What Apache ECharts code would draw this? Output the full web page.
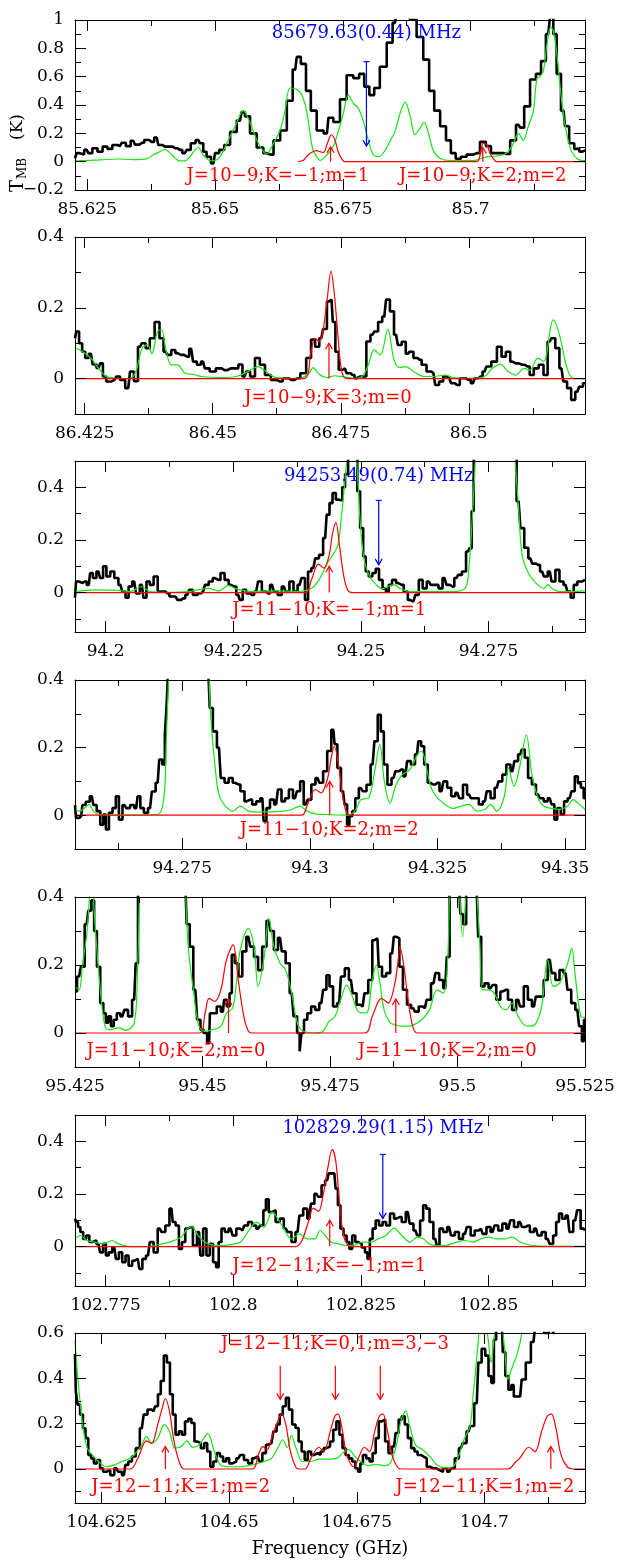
<!DOCTYPE html>
<html>
<head>
<meta charset="utf-8">
<script src="https://cdn.jsdelivr.net/npm/echarts@6/dist/echarts.min.js"></script>
<style>
html,body{margin:0;padding:0;background:#fff;}
#chart{width:618px;height:1562px;}
</style>
</head>
<body>
<div id="chart"></div>
<script>
// spectra: [frequency GHz, T_MB K]. obs = observed (black), model = full model (green), line = marked lines (red)
var p1Obs = [[85.6226,0.024],[85.6232,0.06],[85.6239,0.05],[85.6249,0.083],[85.6255,0.06],[85.6265,0.095],[85.6275,0.07],[85.6285,0.106],[85.6294,0.09],[85.6304,0.118],[85.6314,0.11],[85.6321,0.134],[85.6330,0.11],[85.6340,0.148],[85.6347,0.12],[85.6357,0.134],[85.6366,0.153],[85.6376,0.14],[85.6386,0.17],[85.6392,0.118],[85.6402,0.106],[85.6412,0.106],[85.6422,0.095],[85.6431,0.083],[85.6441,0.06],[85.6448,0.083],[85.6457,0.13],[85.6467,0.153],[85.6474,0.13],[85.6480,0.07],[85.6487,0.035],[85.6497,-0.012],[85.6503,0.06],[85.6513,0.083],[85.6523,0.118],[85.6536,0.21],[85.6549,0.29],[85.6555,0.35],[85.6562,0.32],[85.6575,0.2],[85.6588,0.1],[85.6601,0.06],[85.6608,0.05],[85.6621,0.15],[85.6634,0.22],[85.6647,0.43],[85.6657,0.65],[85.6663,0.74],[85.6673,0.69],[85.6683,0.5],[85.6692,0.36],[85.6706,0.22],[85.6719,0.2],[85.6725,0.31],[85.6738,0.28],[85.6751,0.44],[85.6764,0.61],[85.6777,0.59],[85.6787,0.62],[85.6797,0.53],[85.6807,0.47],[85.6816,0.52],[85.6829,0.67],[85.6843,0.84],[85.6852,0.98],[85.6858,1.04],[85.6872,1.06],[85.6888,1.01],[85.6901,0.88],[85.6914,0.72],[85.6924,0.5],[85.6934,0.36],[85.6947,0.25],[85.6957,0.15],[85.6966,0.06],[85.6976,0.02],[85.6986,0.035],[85.6999,0.05],[85.7012,0.06],[85.7025,0.14],[85.7035,0.11],[85.7045,0.06],[85.7058,0.06],[85.7071,0.055],[85.7084,0.15],[85.7094,0.26],[85.7100,0.24],[85.7110,0.39],[85.7123,0.58],[85.7133,0.62],[85.7143,0.71],[85.7152,0.9],[85.7159,1.02],[85.7165,0.9],[85.7172,0.62],[85.7182,0.36],[85.7188,0.25],[85.7198,0.13],[85.7208,0.09],[85.7218,0.07],[85.7224,0.08]];
var p1Model = [[85.6226,0.005],[85.6275,0.012],[85.6308,0.019],[85.6340,0.015],[85.6366,0.02],[85.6379,0.047],[85.6392,0.07],[85.6402,0.087],[85.6412,0.06],[85.6422,0.025],[85.6431,0.005],[85.6441,0.005],[85.6451,0.035],[85.6461,0.083],[85.6467,0.1],[85.6477,0.047],[85.6487,0.012],[85.6497,0.005],[85.6510,0.035],[85.6523,0.13],[85.6542,0.27],[85.6555,0.36],[85.6568,0.28],[85.6582,0.15],[85.6595,0.07],[85.6601,0.054],[85.6611,0.106],[85.6627,0.22],[85.6637,0.36],[85.6647,0.52],[85.6660,0.51],[85.6670,0.47],[85.6679,0.36],[85.6686,0.2],[85.6692,0.08],[85.6702,0.02],[85.6706,0.01],[85.6719,0.047],[85.6731,0.106],[85.6741,0.21],[85.6751,0.34],[85.6761,0.47],[85.6771,0.41],[85.6780,0.38],[85.6790,0.29],[85.6800,0.15],[85.6810,0.047],[85.6820,0.035],[85.6833,0.08],[85.6843,0.15],[85.6852,0.21],[85.6862,0.34],[85.6872,0.42],[85.6882,0.32],[85.6891,0.19],[85.6901,0.235],[85.6909,0.28],[85.6917,0.21],[85.6927,0.08],[85.6940,0.024],[85.6960,0.007],[85.7005,0.007],[85.7022,0.024],[85.7035,0.035],[85.7051,0.04],[85.7068,0.054],[85.7081,0.106],[85.7094,0.2],[85.7103,0.15],[85.7113,0.25],[85.7123,0.36],[85.7130,0.59],[85.7136,0.6],[85.7143,0.65],[85.7150,0.84],[85.7157,0.95],[85.7162,0.92],[85.7169,0.76],[85.7178,0.44],[85.7188,0.2],[85.7198,0.07],[85.7211,0.016],[85.7224,0.007]];
var p1Line = [[85.6663,0],[85.6673,0.01],[85.6679,0.035],[85.6686,0.06],[85.6699,0.078],[85.6706,0.07],[85.6712,0.065],[85.6719,0.12],[85.6725,0.18],[85.6728,0.19],[85.6735,0.15],[85.6741,0.07],[85.6748,0.02],[85.6754,0],[85.7012,0],[85.7019,0.05],[85.7025,0.13],[85.7032,0.12],[85.7038,0.06],[85.7045,0.02],[85.7051,0],[85.7224,0]];

var p2Obs = [[86.4231,0.114],[86.4236,0.133],[86.4242,0.1],[86.4248,0.076],[86.4254,0.058],[86.4262,0.07],[86.4269,0.04],[86.4277,0.03],[86.4283,0.043],[86.4288,0.006],[86.4296,-0.008],[86.4308,-0.004],[86.4315,0.006],[86.4323,-0.004],[86.4335,-0.027],[86.4342,0.02],[86.4350,-0.007],[86.4358,0.09],[86.4365,0.1],[86.4373,0.086],[86.4381,0.114],[86.4392,0.16],[86.4400,0.114],[86.4408,0.076],[86.4415,0.067],[86.4423,0.081],[86.4431,0.072],[86.4438,0.067],[86.4450,0.062],[86.4458,0.084],[86.4465,0.048],[86.4473,0.039],[86.4481,0.048],[86.4488,0.029],[86.4500,0.02],[86.4512,0.029],[86.4523,0.024],[86.4535,0.029],[86.4546,0.029],[86.4554,0.04],[86.4562,0.006],[86.4569,0.02],[86.4577,0.006],[86.4588,0.058],[86.4596,0.039],[86.4608,0.01],[86.4619,-0.004],[86.4631,-0.008],[86.4642,0.001],[86.4654,-0.004],[86.4665,0.001],[86.4677,0.015],[86.4688,0.058],[86.4696,0.11],[86.4704,0.09],[86.4712,0.114],[86.4719,0.14],[86.4727,0.218],[86.4732,0.223],[86.4737,0.16],[86.4742,0.076],[86.4750,0.025],[86.4758,0.029],[86.4765,0.015],[86.4773,0.01],[86.4781,0.001],[86.4788,0.006],[86.4796,0.006],[86.4804,0.105],[86.4812,0.124],[86.4819,0.133],[86.4827,0.16],[86.4835,0.175],[86.4842,0.223],[86.4850,0.19],[86.4858,0.124],[86.4865,0.095],[86.4873,0.104],[86.4881,0.07],[86.4888,0.076],[86.4896,0.058],[86.4904,0.053],[86.4912,0.039],[86.4923,0.02],[86.4931,0.015],[86.4938,-0.018],[86.4946,-0.008],[86.4954,0.006],[86.4962,0.001],[86.4969,-0.013],[86.4977,-0.018],[86.4988,0.001],[86.5000,-0.004],[86.5008,-0.013],[86.5015,0.001],[86.5023,0.006],[86.5031,0.02],[86.5038,0.034],[86.5050,0.048],[86.5060,0.09],[86.5068,0.062],[86.5077,0.076],[86.5085,0.048],[86.5092,0.043],[86.5104,0.039],[86.5115,0.034],[86.5123,0.01],[86.5131,0.029],[86.5142,0.039],[86.5150,0.01],[86.5158,0.105],[86.5165,0.114],[86.5173,0.086],[86.5181,0.029],[86.5188,-0.008],[86.5196,-0.027],[86.5204,-0.06],[86.5212,-0.037],[86.5219,-0.023],[86.5227,-0.013]];
var p2Model = [[86.4231,0.088],[86.4246,0.076],[86.4262,0.058],[86.4277,0.029],[86.4292,0.006],[86.4308,0.001],[86.4338,0],[86.4350,0.02],[86.4362,0.086],[86.4373,0.095],[86.4381,0.07],[86.4392,0.133],[86.4400,0.138],[86.4408,0.086],[86.4419,0.039],[86.4431,0.039],[86.4446,0.015],[86.4462,0.012],[86.4477,0.006],[86.4515,0.003],[86.4546,0.006],[86.4569,0.02],[86.4588,0.034],[86.4608,0.015],[86.4623,0.003],[86.4669,0.001],[86.4688,0.015],[86.4696,0.031],[86.4708,0.012],[86.4723,0.003],[86.4738,0.008],[86.4754,0.005],[86.4777,0.001],[86.4792,0.006],[86.4804,0.039],[86.4815,0.081],[86.4827,0.067],[86.4842,0.14],[86.4854,0.053],[86.4865,0.031],[86.4877,0.034],[86.4892,0.02],[86.4912,0.006],[86.4931,0.006],[86.4954,0.01],[86.4969,0.003],[86.5008,0.001],[86.5031,0.006],[86.5046,0.029],[86.5062,0.04],[86.5077,0.02],[86.5092,0.01],[86.5108,0.029],[86.5119,0.024],[86.5135,0.058],[86.5146,0.048],[86.5165,0.166],[86.5177,0.124],[86.5192,0.029],[86.5204,0.001],[86.5227,0]];
var p2Line = [[86.4231,0],[86.4677,0],[86.4692,0.076],[86.4700,0.114],[86.4708,0.105],[86.4715,0.133],[86.4723,0.218],[86.4731,0.303],[86.4737,0.246],[86.4745,0.114],[86.4752,0.02],[86.4762,0],[86.5227,0]];

var p3Obs = [[94.1940,-0.02],[94.1944,0.042],[94.1951,0.036],[94.1959,0.042],[94.1967,0.029],[94.1972,0.074],[94.1978,0.055],[94.1986,0.08],[94.1992,0.055],[94.1998,0.1],[94.2005,0.061],[94.2013,0.08],[94.2021,0.055],[94.2029,0.029],[94.2036,0.004],[94.2042,-0.02],[94.2048,0.023],[94.2056,0.042],[94.2063,-0.003],[94.2071,0.029],[94.2077,-0.02],[94.2083,0.042],[94.2090,0.029],[94.2098,0.061],[94.2106,0.004],[94.2113,0.004],[94.2121,-0.003],[94.2129,-0.015],[94.2137,-0.015],[94.2144,-0.028],[94.2152,-0.022],[94.2160,-0.009],[94.2167,0.01],[94.2175,-0.009],[94.2183,-0.003],[94.2191,0.004],[94.2198,0.029],[94.2206,0.042],[94.2214,0.055],[94.2221,0.048],[94.2229,0.074],[94.2237,0.048],[94.2245,0.029],[94.2252,0.023],[94.2260,-0.009],[94.2265,-0.028],[94.2272,0.01],[94.2279,-0.003],[94.2287,-0.009],[94.2295,0.004],[94.2302,0.042],[94.2310,0.004],[94.2318,-0.003],[94.2326,0.029],[94.2333,0.004],[94.2341,-0.009],[94.2349,0.023],[94.2356,0.004],[94.2364,0.042],[94.2372,0.004],[94.2380,0.029],[94.2387,0.055],[94.2394,-0.028],[94.2399,0.08],[94.2407,0.093],[94.2414,0.13],[94.2422,0.143],[94.2430,0.207],[94.2436,0.296],[94.2441,0.34],[94.2448,0.378],[94.2454,0.353],[94.2461,0.35],[94.2466,0.4],[94.2472,0.45],[94.2478,0.52],[94.2485,0.6],[94.2491,0.52],[94.2495,0.385],[94.2502,0.245],[94.2507,0.137],[94.2512,0.08],[94.2519,0.061],[94.2526,0.074],[94.2532,0.09],[94.2539,0.048],[94.2546,0.016],[94.2552,0.004],[94.2557,0.029],[94.2565,0.048],[94.2573,0.036],[94.2580,0.029],[94.2588,0.004],[94.2596,-0.028],[94.2603,-0.034],[94.2610,-0.009],[94.2617,0.048],[94.2625,0.016],[94.2633,0.042],[94.2640,0.029],[94.2648,0.029],[94.2656,0.016],[94.2664,0.055],[94.2671,0.029],[94.2679,0.023],[94.2687,0.055],[94.2694,0.067],[94.2702,0.08],[94.2710,0.156],[94.2715,0.168],[94.2719,0.31],[94.2723,0.55],[94.2731,0.9],[94.2762,1.0],[94.2793,0.9],[94.2801,0.55],[94.2809,0.347],[94.2816,0.245],[94.2824,0.17],[94.2832,0.13],[94.2839,0.11],[94.2847,0.105],[94.2855,0.08],[94.2862,0.061],[94.2870,0.08],[94.2877,0.042],[94.2885,0.086],[94.2893,0.042],[94.2901,0.029],[94.2908,0.004],[94.2914,-0.02],[94.2920,0.029],[94.2928,0.042],[94.2939,0.048]];
var p3Model = [[94.1940,0.004],[94.1978,0.01],[94.2025,0.008],[94.2048,0.004],[94.2071,0.023],[94.2086,0.004],[94.2117,0.001],[94.2164,0.004],[94.2202,0.016],[94.2221,0.006],[94.2241,0.027],[94.2256,0.014],[94.2287,0.004],[94.2333,0.006],[94.2380,0.004],[94.2403,0.016],[94.2418,0.048],[94.2434,0.11],[94.2445,0.143],[94.2455,0.18],[94.2463,0.31],[94.2468,0.41],[94.2474,0.55],[94.2481,0.9],[94.2490,0.55],[94.2495,0.4],[94.2499,0.258],[94.2507,0.118],[94.2519,0.055],[94.2530,0.03],[94.2542,0.014],[94.2553,0.023],[94.2565,0.03],[94.2576,0.016],[94.2596,0.004],[94.2642,0.004],[94.2681,0.004],[94.2704,0.016],[94.2711,0.08],[94.2719,0.31],[94.2725,0.55],[94.2735,1.2],[94.2762,1.4],[94.2789,1.2],[94.2801,0.55],[94.2809,0.32],[94.2816,0.14],[94.2828,0.074],[94.2843,0.036],[94.2859,0.016],[94.2866,0.03],[94.2874,0.016],[94.2889,0.004],[94.2912,0.004],[94.2939,0.006]];
var p3Line = [[94.1940,0],[94.2391,0],[94.2403,0.048],[94.2417,0.108],[94.2427,0.093],[94.2438,0.143],[94.2444,0.22],[94.2451,0.267],[94.2458,0.18],[94.2466,0.067],[94.2474,0.01],[94.2484,0],[94.2939,0]];

var p4Obs = [[94.2540,0.03],[94.2544,-0.008],[94.2552,-0.003],[94.2557,0.03],[94.2565,0.04],[94.2573,0.056],[94.2579,0.03],[94.2586,0.012],[94.2593,-0.028],[94.2598,0.002],[94.2603,-0.042],[94.2610,0.007],[94.2617,0.021],[94.2623,0.056],[94.2629,-0.013],[94.2637,0.03],[94.2644,0.021],[94.2652,0.03],[94.2660,0.021],[94.2665,0.056],[94.2671,0.021],[94.2679,0.007],[94.2687,0.021],[94.2694,0.07],[94.2702,0.096],[94.2708,0.165],[94.2714,0.15],[94.2718,0.238],[94.2721,0.327],[94.2725,0.45],[94.2733,0.8],[94.2764,0.9],[94.2799,0.7],[94.2802,0.45],[94.2806,0.317],[94.2814,0.248],[94.2822,0.2],[94.2829,0.11],[94.2837,0.096],[94.2845,0.11],[94.2853,0.096],[94.2860,0.091],[94.2868,0.071],[94.2876,0.041],[94.2883,0.046],[94.2891,0.032],[94.2899,0.041],[94.2907,0.05],[94.2912,-0.018],[94.2918,0.021],[94.2926,0.046],[94.2934,0.032],[94.2941,0.076],[94.2948,0.041],[94.2955,0.05],[94.2963,0.076],[94.2971,0.05],[94.2978,0.071],[94.2984,0.1],[94.2992,0.032],[94.2999,0.046],[94.3007,0.091],[94.3015,0.11],[94.3022,0.096],[94.3030,0.13],[94.3038,0.19],[94.3046,0.253],[94.3051,0.21],[94.3057,0.14],[94.3065,0.071],[94.3071,0.032],[94.3075,-0.028],[94.3080,-0.003],[94.3086,0.012],[94.3092,0.05],[94.3100,0.08],[94.3107,0.071],[94.3115,0.09],[94.3123,0.15],[94.3130,0.219],[94.3136,0.297],[94.3142,0.248],[94.3148,0.15],[94.3156,0.09],[94.3164,0.11],[94.3171,0.13],[94.3179,0.135],[94.3187,0.115],[94.3194,0.16],[94.3202,0.15],[94.3210,0.18],[94.3215,0.219],[94.3221,0.204],[94.3227,0.15],[94.3235,0.096],[94.3242,0.091],[94.3250,0.096],[94.3258,0.071],[94.3265,0.1],[94.3273,0.081],[94.3281,0.056],[94.3289,0.066],[94.3296,0.05],[94.3304,0.09],[94.3312,0.061],[94.3319,0.05],[94.3327,0.05],[94.3335,0.032],[94.3343,0.041],[94.3350,0.071],[94.3358,0.05],[94.3366,0.081],[94.3373,0.1],[94.3381,0.12],[94.3389,0.15],[94.3397,0.13],[94.3404,0.16],[94.3412,0.18],[94.3418,0.194],[94.3424,0.17],[94.3431,0.11],[94.3439,0.091],[94.3447,0.061],[94.3454,0.05],[94.3462,0.041],[94.3470,0.05],[94.3477,0.032],[94.3481,-0.013],[94.3488,0.021],[94.3495,0.002],[94.3501,0.041],[94.3509,0.05],[94.3516,0.071],[94.3522,0.115],[94.3528,0.095],[94.3534,0.081],[94.3539,0.05]];
var p4Model = [[94.2540,0.017],[94.2548,0.012],[94.2559,0.021],[94.2567,0.032],[94.2579,0.007],[94.2602,0],[94.2656,0],[94.2702,0.002],[94.2714,0.05],[94.2719,0.23],[94.2724,0.45],[94.2733,1.2],[94.2764,1.4],[94.2799,1.0],[94.2802,0.45],[94.2806,0.29],[94.2814,0.15],[94.2822,0.06],[94.2833,0.03],[94.2849,0.012],[94.2864,0.027],[94.2880,0.012],[94.2903,0.009],[94.2949,0.012],[94.2965,0.017],[94.2980,0.027],[94.2995,0.012],[94.3011,0.004],[94.3034,0.002],[94.3073,0],[94.3088,0.012],[94.3100,0.046],[94.3115,0.051],[94.3127,0.13],[94.3137,0.209],[94.3146,0.1],[94.3157,0.036],[94.3169,0.091],[94.3181,0.12],[94.3196,0.135],[94.3211,0.18],[94.3219,0.19],[94.3227,0.15],[94.3238,0.08],[94.3250,0.051],[94.3265,0.032],[94.3281,0.02],[94.3296,0.027],[94.3312,0.032],[94.3327,0.012],[94.3343,0.017],[94.3354,0.032],[94.3366,0.012],[94.3381,0.056],[94.3389,0.14],[94.3400,0.086],[94.3412,0.15],[94.3424,0.238],[94.3435,0.12],[94.3447,0.051],[94.3458,0.027],[94.3474,0.02],[94.3489,0.017],[94.3505,0.027],[94.3516,0.046],[94.3528,0.032],[94.3539,0.017]];
var p4Line = [[94.2540,0],[94.2984,0],[94.2995,0.03],[94.3011,0.076],[94.3022,0.066],[94.3034,0.105],[94.3042,0.17],[94.3048,0.204],[94.3056,0.15],[94.3065,0.05],[94.3073,0.004],[94.3080,0],[94.3539,0]];

var p5Obs = [[95.4250,0.122],[95.4258,0.166],[95.4265,0.195],[95.4273,0.32],[95.4279,0.36],[95.4285,0.39],[95.4290,0.3],[95.4296,0.195],[95.4303,0.088],[95.4308,0.058],[95.4313,0.03],[95.4318,0.049],[95.4323,0.02],[95.4329,0.039],[95.4335,0.058],[95.4343,0.049],[95.4350,0.068],[95.4358,0.049],[95.4366,0.098],[95.4372,0.205],[95.4375,0.45],[95.4381,0.8],[95.4458,0.8],[95.4466,0.45],[95.4472,0.32],[95.4478,0.254],[95.4486,0.127],[95.4493,0.039],[95.4499,0.01],[95.4505,0],[95.4513,-0.03],[95.4516,0.058],[95.4524,0.058],[95.4532,0.078],[95.4540,0.063],[95.4545,0.098],[95.4551,0.078],[95.4555,0.117],[95.4560,0.23],[95.4567,0.205],[95.4574,0.166],[95.4582,0.24],[95.4590,0.283],[95.4597,0.254],[95.4605,0.224],[95.4613,0.185],[95.4621,0.254],[95.4630,0.33],[95.4636,0.3],[95.4644,0.244],[95.4652,0.28],[95.4659,0.24],[95.4667,0.205],[95.4675,0.117],[95.4682,0.049],[95.4689,0],[95.4692,-0.054],[95.4696,0],[95.4702,0.039],[95.4709,0.058],[95.4717,0.078],[95.4725,0.068],[95.4733,0.088],[95.4740,0.127],[95.4746,0.17],[95.4752,0.137],[95.4760,0.078],[95.4768,0.088],[95.4775,0.166],[95.4783,0.19],[95.4791,0.156],[95.4798,0.117],[95.4806,0.083],[95.4814,0.078],[95.4821,0.117],[95.4829,0.156],[95.4837,0.273],[95.4843,0.278],[95.4848,0.195],[95.4856,0.166],[95.4864,0.176],[95.4872,0.234],[95.4878,0.283],[95.4883,0.278],[95.4889,0.195],[95.4897,0.127],[95.4905,0.083],[95.4913,0.073],[95.4920,0.063],[95.4928,0.078],[95.4936,0.073],[95.4943,0.098],[95.4953,0.146],[95.4960,0.176],[95.4968,0.156],[95.4976,0.132],[95.4982,0.224],[95.4987,0.45],[95.4995,0.7],[95.5003,0.45],[95.5008,0.35],[95.5014,0.32],[95.5020,0.45],[95.5028,0.7],[95.5037,0.45],[95.5044,0.283],[95.5049,0.137],[95.5057,0.146],[95.5065,0.132],[95.5072,0.141],[95.5080,0.098],[95.5088,0.122],[95.5095,0.127],[95.5103,0.098],[95.5111,0.068],[95.5119,0.098],[95.5126,0.078],[95.5134,0.137],[95.5142,0.098],[95.5150,0.078],[95.5157,0.107],[95.5165,0.107],[95.5173,0.156],[95.5181,0.215],[95.5188,0.176],[95.5196,0.156],[95.5204,0.185],[95.5212,0.176],[95.5219,0.127],[95.5227,0.088],[95.5235,0.068],[95.5242,0.02],[95.5246,-0.024],[95.5250,0.039]];
var p5Model = [[95.4250,0.137],[95.4258,0.127],[95.4265,0.205],[95.4273,0.29],[95.4281,0.45],[95.4284,0.47],[95.4287,0.37],[95.4295,0.205],[95.4303,0.078],[95.4310,0.015],[95.4319,0.01],[95.4335,0.015],[95.4350,0.008],[95.4366,0.029],[95.4372,0.156],[95.4377,0.45],[95.4385,1.0],[95.4458,1.0],[95.4466,0.45],[95.4472,0.254],[95.4482,0.127],[95.4493,0.02],[95.4505,0.005],[95.4520,0.01],[95.4536,0.02],[95.4547,0.058],[95.4559,0.073],[95.4567,0.156],[95.4574,0.244],[95.4590,0.307],[95.4601,0.254],[95.4609,0.137],[95.4621,0.224],[95.4630,0.337],[95.4640,0.254],[95.4652,0.205],[95.4663,0.185],[95.4675,0.117],[95.4686,0.029],[95.4698,0.005],[95.4721,0],[95.4736,0.005],[95.4748,0.034],[95.4760,0.049],[95.4771,0.098],[95.4783,0.141],[95.4794,0.107],[95.4806,0.063],[95.4821,0.059],[95.4833,0.156],[95.4841,0.2],[95.4848,0.146],[95.4856,0.068],[95.4868,0.03],[95.4879,0.024],[95.4891,0.02],[95.4903,0.02],[95.4914,0.024],[95.4930,0.039],[95.4945,0.068],[95.4960,0.127],[95.4972,0.117],[95.4980,0.195],[95.4985,0.45],[95.4993,0.8],[95.5003,0.45],[95.5010,0.283],[95.5018,0.45],[95.5027,0.8],[95.5037,0.45],[95.5044,0.254],[95.5049,0.127],[95.5061,0.127],[95.5072,0.117],[95.5084,0.078],[95.5095,0.068],[95.5107,0.088],[95.5119,0.049],[95.5131,0.024],[95.5142,0.02],[95.5154,0.029],[95.5165,0.078],[95.5177,0.215],[95.5188,0.137],[95.5200,0.146],[95.5216,0.205],[95.5224,0.249],[95.5231,0.166],[95.5242,0.049],[95.5250,0.046]];
var p5Line = [[95.4250,0],[95.4493,0],[95.4505,0.058],[95.4513,0.102],[95.4524,0.093],[95.4536,0.127],[95.4547,0.215],[95.4560,0.259],[95.4570,0.156],[95.4581,0.049],[95.4590,0.005],[95.4597,0],[95.4818,0],[95.4833,0.049],[95.4851,0.102],[95.4864,0.088],[95.4876,0.137],[95.4883,0.205],[95.4887,0.254],[95.4895,0.195],[95.4903,0.098],[95.4913,0.015],[95.4922,0],[95.5250,0]];

var p6Obs = [[102.7690,0.106],[102.7694,0.093],[102.7698,0.074],[102.7703,0.055],[102.7709,0.029],[102.7715,0.042],[102.7721,0.017],[102.7728,0.023],[102.7736,0.01],[102.7742,-0.022],[102.7748,0.01],[102.7753,-0.034],[102.7759,-0.022],[102.7767,-0.003],[102.7773,-0.047],[102.7779,-0.022],[102.7786,-0.06],[102.7792,-0.034],[102.7798,-0.073],[102.7806,-0.054],[102.7813,-0.047],[102.7819,-0.085],[102.7825,-0.047],[102.7833,-0.034],[102.7840,0.017],[102.7848,-0.022],[102.7856,0.068],[102.7863,0.055],[102.7871,0.08],[102.7879,0.144],[102.7884,0.093],[102.7890,0.08],[102.7897,-0.009],[102.7902,0.017],[102.7910,0.068],[102.7917,0.074],[102.7925,0.004],[102.7933,0.055],[102.7938,-0.034],[102.7944,0.068],[102.7951,-0.034],[102.7957,0.01],[102.7964,-0.06],[102.7969,-0.079],[102.7974,0.017],[102.7980,0.068],[102.7987,0.055],[102.7995,0.068],[102.8002,0.042],[102.8010,0.068],[102.8018,0.061],[102.8025,0.08],[102.8033,0.093],[102.8041,0.08],[102.8049,0.068],[102.8056,0.08],[102.8062,0.138],[102.8066,0.18],[102.8073,0.131],[102.8079,0.138],[102.8087,0.093],[102.8095,0.106],[102.8103,0.068],[102.8110,0.055],[102.8118,0.017],[102.8126,0.055],[102.8133,0.118],[102.8141,0.144],[102.8149,0.106],[102.8155,0.163],[102.8163,0.2],[102.8170,0.189],[102.8176,0.233],[102.8184,0.252],[102.8190,0.278],[102.8198,0.278],[102.8203,0.22],[102.8207,0.157],[102.8213,0.068],[102.8219,0.042],[102.8225,0.017],[102.8230,-0.009],[102.8236,0.042],[102.8242,0.017],[102.8248,0.01],[102.8255,-0.003],[102.8261,-0.022],[102.8265,-0.047],[102.8270,0.029],[102.8276,0.068],[102.8282,0.099],[102.8289,0.08],[102.8296,0.093],[102.8303,0.08],[102.8311,0.125],[102.8319,0.106],[102.8326,0.112],[102.8334,0.093],[102.8342,0.131],[102.8349,0.087],[102.8357,0.061],[102.8363,0.042],[102.8369,0.099],[102.8375,0.157],[102.8381,0.144],[102.8388,0.093],[102.8396,0.029],[102.8401,0.004],[102.8407,0.068],[102.8415,0.055],[102.8423,0.074],[102.8430,0.042],[102.8438,0.055],[102.8446,0.029],[102.8454,0.048],[102.8461,0.074],[102.8469,0.042],[102.8477,0.061],[102.8485,0.068],[102.8492,0.048],[102.8500,0.074],[102.8508,0.055],[102.8515,0.08],[102.8523,0.061],[102.8531,0.087],[102.8539,0.068],[102.8546,0.1],[102.8554,0.074],[102.8562,0.093],[102.8569,0.074],[102.8577,0.08],[102.8585,0.055],[102.8593,0.068],[102.8600,0.042],[102.8608,0.055],[102.8616,0.029],[102.8623,0.01],[102.8630,0.042],[102.8635,0.093],[102.8641,0.125],[102.8647,0.106],[102.8655,0.118],[102.8662,0.055],[102.8670,0.099],[102.8677,0.138],[102.8684,0.068],[102.8689,0.061]];
var p6Model = [[102.7690,0.03],[102.7701,0.042],[102.7713,0.023],[102.7728,0.017],[102.7744,0.01],[102.7763,0.023],[102.7775,0.01],[102.7798,0],[102.7829,0],[102.7852,0.006],[102.7875,0.017],[102.7898,0.036],[102.7910,0.068],[102.7919,0.076],[102.7929,0.048],[102.7944,0.017],[102.7968,0.004],[102.7991,0.006],[102.8014,0.017],[102.8033,0.068],[102.8046,0.093],[102.8060,0.074],[102.8076,0.131],[102.8083,0.118],[102.8099,0.068],[102.8114,0.029],[102.8130,0.048],[102.8145,0.029],[102.8160,0.029],[102.8170,0.061],[102.8180,0.042],[102.8191,0.017],[102.8207,0.01],[102.8222,0.004],[102.8238,0.006],[102.8253,0.017],[102.8269,0.017],[102.8284,0.029],[102.8299,0.042],[102.8315,0.07],[102.8330,0.042],[102.8346,0.017],[102.8361,0.036],[102.8373,0.029],[102.8384,0.01],[102.8400,0.004],[102.8415,0.004],[102.8438,0.017],[102.8454,0.023],[102.8469,0.017],[102.8485,0.029],[102.8500,0.036],[102.8515,0.029],[102.8531,0.029],[102.8546,0.036],[102.8562,0.017],[102.8585,0.004],[102.8623,0.001],[102.8689,0.001]];
var p6Line = [[102.7690,0],[102.8122,0],[102.8133,0.017],[102.8145,0.08],[102.8157,0.146],[102.8167,0.134],[102.8176,0.195],[102.8185,0.297],[102.8194,0.369],[102.8201,0.322],[102.8208,0.17],[102.8216,0.042],[102.8225,0.004],[102.8234,0],[102.8689,0]];

var p7Obs = [[104.6198,0.507],[104.6201,0.344],[104.6205,0.284],[104.6211,0.24],[104.6216,0.18],[104.6221,0.136],[104.6227,0.062],[104.6232,0.047],[104.6238,0.025],[104.6244,0.04],[104.6250,0.003],[104.6256,-0.012],[104.6263,-0.005],[104.6271,-0.027],[104.6279,0.003],[104.6286,-0.012],[104.6294,-0.027],[104.6299,0.018],[104.6306,0.033],[104.6313,0.055],[104.6321,0.092],[104.6329,0.18],[104.6336,0.24],[104.6344,0.262],[104.6352,0.255],[104.6358,0.277],[104.6363,0.33],[104.6369,0.388],[104.6375,0.5],[104.6381,0.47],[104.6387,0.33],[104.6392,0.24],[104.6398,0.151],[104.6405,0.166],[104.6410,0.151],[104.6417,0.21],[104.6423,0.222],[104.6429,0.203],[104.6435,0.121],[104.6441,0.114],[104.6448,0.092],[104.6454,0.114],[104.6460,0.077],[104.6466,0.01],[104.6472,0.033],[104.6479,0.07],[104.6485,0.055],[104.6491,0.033],[104.6497,0.047],[104.6503,0.025],[104.6510,0.033],[104.6518,0.047],[104.6525,0.062],[104.6533,0.04],[104.6541,0.025],[104.6549,0.047],[104.6556,0.055],[104.6562,0.033],[104.6568,0.07],[104.6576,0.107],[104.6583,0.114],[104.6590,0.166],[104.6596,0.196],[104.6602,0.24],[104.6608,0.277],[104.6614,0.314],[104.6620,0.262],[104.6627,0.196],[104.6633,0.181],[104.6639,0.121],[104.6645,0.077],[104.6651,0.04],[104.6657,0.077],[104.6664,0.062],[104.6670,0.07],[104.6676,0.062],[104.6682,0.077],[104.6688,0.092],[104.6694,0.099],[104.6701,0.121],[104.6707,0.173],[104.6713,0.21],[104.6719,0.151],[104.6725,0.092],[104.6731,0.062],[104.6738,0.047],[104.6744,0.033],[104.6750,0.003],[104.6755,-0.012],[104.6759,0.025],[104.6765,0.062],[104.6772,0.047],[104.6778,0.033],[104.6784,0.07],[104.6790,0.136],[104.6796,0.21],[104.6802,0.218],[104.6809,0.121],[104.6815,0.07],[104.6823,0.099],[104.6829,0.159],[104.6835,0.218],[104.6841,0.233],[104.6847,0.196],[104.6853,0.136],[104.6860,0.092],[104.6866,0.077],[104.6872,0.062],[104.6878,0.055],[104.6884,0.047],[104.6890,0.01],[104.6897,0.003],[104.6903,0.003],[104.6909,-0.005],[104.6915,-0.012],[104.6923,0.003],[104.6931,-0.012],[104.6938,0.003],[104.6946,0.047],[104.6954,0.092],[104.6961,0.114],[104.6969,0.166],[104.6975,0.19],[104.6985,0.29],[104.6991,0.47],[104.6998,0.53],[104.7005,0.5],[104.7011,0.41],[104.7016,0.38],[104.7021,0.57],[104.7025,0.65],[104.7034,0.65],[104.7038,0.515],[104.7044,0.41],[104.7050,0.35],[104.7055,0.37],[104.7060,0.32],[104.7070,0.32],[104.7076,0.395],[104.7086,0.47],[104.7096,0.56],[104.7102,0.62],[104.7112,0.65],[104.7122,0.6],[104.7130,0.63],[104.7138,0.6]];
var p7Model = [[104.6198,0.566],[104.6204,0.388],[104.6213,0.196],[104.6222,0.092],[104.6232,0.062],[104.6244,0.033],[104.6259,0.01],[104.6275,0.018],[104.6290,0.033],[104.6306,0.047],[104.6317,0.07],[104.6329,0.107],[104.6338,0.144],[104.6348,0.114],[104.6360,0.136],[104.6373,0.196],[104.6383,0.166],[104.6394,0.092],[104.6406,0.099],[104.6417,0.124],[104.6429,0.095],[104.6441,0.107],[104.6458,0.156],[104.6471,0.077],[104.6483,0.018],[104.6498,0.01],[104.6522,0.01],[104.6545,0.018],[104.6568,0.033],[104.6583,0.047],[104.6595,0.092],[104.6605,0.129],[104.6614,0.095],[104.6622,0.148],[104.6631,0.092],[104.6644,0.033],[104.6660,0.033],[104.6676,0.044],[104.6695,0.044],[104.6711,0.047],[104.6722,0.07],[104.6734,0.087],[104.6744,0.062],[104.6757,0.033],[104.6772,0.015],[104.6788,0.021],[104.6803,0.015],[104.6815,0.025],[104.6826,0.092],[104.6838,0.225],[104.6846,0.255],[104.6853,0.196],[104.6865,0.107],[104.6880,0.084],[104.6896,0.047],[104.6907,0.018],[104.6923,0.006],[104.6938,0.01],[104.6950,0.062],[104.6961,0.136],[104.6972,0.19],[104.6978,0.33],[104.6985,0.49],[104.6990,0.62],[104.6996,0.8],[104.7002,0.8],[104.7005,0.62],[104.7008,0.56],[104.7013,0.47],[104.7018,0.56],[104.7021,0.62],[104.7027,0.9],[104.7033,0.9],[104.7036,0.62],[104.7040,0.52],[104.7046,0.395],[104.7053,0.44],[104.7063,0.5],[104.7070,0.56],[104.7074,0.62],[104.7082,0.9]];
var p7Line = [[104.6198,0],[104.6306,0],[104.6321,0.047],[104.6338,0.124],[104.6348,0.114],[104.6360,0.196],[104.6369,0.27],[104.6375,0.311],[104.6383,0.255],[104.6392,0.121],[104.6402,0.033],[104.6412,0],[104.6545,0],[104.6557,0.062],[104.6566,0.099],[104.6574,0.084],[104.6585,0.151],[104.6595,0.21],[104.6603,0.243],[104.6611,0.196],[104.6620,0.077],[104.6630,0.01],[104.6637,0],[104.6649,0],[104.6660,0.047],[104.6676,0.096],[104.6685,0.077],[104.6698,0.166],[104.6707,0.233],[104.6713,0.243],[104.6721,0.18],[104.6730,0.062],[104.6740,0.015],[104.6745,0.01],[104.6753,0.047],[104.6765,0.096],[104.6775,0.077],[104.6785,0.166],[104.6794,0.233],[104.6801,0.243],[104.6809,0.18],[104.6819,0.062],[104.6829,0.01],[104.6838,0],[104.7046,0],[104.7062,0.033],[104.7069,0.047],[104.7087,0.096],[104.7099,0.077],[104.7112,0.166],[104.7123,0.233],[104.7131,0.243],[104.7140,0.18],[104.7150,0.062],[104.7162,0.01],[104.7174,0],[104.7197,0]];

// tick labels
var p1XTicks = [85.625, 85.65, 85.675, 85.7], p1YTicks = [-0.2, 0, 0.2, 0.4, 0.6, 0.8, 1];
var p2XTicks = [86.425, 86.45, 86.475, 86.5], p2YTicks = [0, 0.2, 0.4];
var p3XTicks = [94.2, 94.225, 94.25, 94.275], p3YTicks = [0, 0.2, 0.4];
var p4XTicks = [94.275, 94.3, 94.325, 94.35], p4YTicks = [0, 0.2, 0.4];
var p5XTicks = [95.425, 95.45, 95.475, 95.5, 95.525], p5YTicks = [0, 0.2, 0.4];
var p6XTicks = [102.775, 102.8, 102.825, 102.85], p6YTicks = [0, 0.2, 0.4];
var p7XTicks = [104.625, 104.65, 104.675, 104.7], p7YTicks = [0, 0.2, 0.4, 0.6];

// line markers: [GHz, from K, to K]
var p1Arrows = [[85.6726, 0, 0.105], [85.7024, 0, 0.1]];
var p2Arrows = [[86.4727, 0, 0.1]];
var p3Arrows = [[94.2438, 0, 0.1]];
var p4Arrows = [[94.3039, 0, 0.1]];
var p5Arrows = [[95.4551, 0, 0.1], [95.4879, 0, 0.1]];
var p6Arrows = [[102.8189, 0, 0.1]];
var p7Arrows = [[104.6375, 0, 0.1], [104.7130, 0, 0.1], [104.6600, 0.455, 0.307], [104.6708, 0.455, 0.307], [104.6796, 0.455, 0.307]];
// predicted frequencies (blue): [GHz, top K, tip K]
var p1Pred = [[85.67963, 0.706, 0.11]];
var p3Pred = [[94.25349, 0.35, 0.105]];
var p6Pred = [[102.82929, 0.35, 0.106]];
// texts: [text, GHz, K]
var p1Names = [['J=10\u22129;K=\u22121;m=1', 85.6623, -0.1], ['J=10\u22129;K=2;m=2', 85.7024, -0.1]];
var p2Names = [['J=10\u22129;K=3;m=0', 86.4725, -0.056]];
var p3Names = [['J=11\u221210;K=\u22121;m=1', 94.2438, -0.069]];
var p4Names = [['J=11\u221210;K=2;m=2', 94.3038, -0.044]];
var p5Names = [['J=11\u221210;K=2;m=0', 95.4448, -0.054], ['J=11\u221210;K=2;m=0', 95.4980, -0.054]];
var p6Names = [['J=12\u221211;K=\u22121;m=1', 102.8188, -0.075]];
var p7Names = [['J=12\u221211;K=0,1;m=3,\u22123', 104.6707, 0.551], ['J=12\u221211;K=1;m=2', 104.6405, -0.079], ['J=12\u221211;K=1;m=2', 104.7001, -0.079]];
var p1PredText = [['85679.63(0.44) MHz', 85.67963, 0.908]];
var p3PredText = [['94253.49(0.74) MHz', 94.25349, 0.442]];
var p6PredText = [['102829.29(1.15) MHz', 102.82929, 0.45]];

var panels = [
  {obs:p1Obs, model:p1Model, line:p1Line, xt:p1XTicks, yt:p1YTicks, x:[85.6226,85.7224], y:[-0.2,1], top:20, h:170, arrows:p1Arrows, pred:p1Pred, names:p1Names, predText:p1PredText},
  {obs:p2Obs, model:p2Model, line:p2Line, xt:p2XTicks, yt:p2YTicks, x:[86.4231,86.5227], y:[-0.1,0.4], top:237, h:177, arrows:p2Arrows, pred:[], names:p2Names, predText:[]},
  {obs:p3Obs, model:p3Model, line:p3Line, xt:p3XTicks, yt:p3YTicks, x:[94.1940,94.2939], y:[-0.15,0.5], top:461, h:171, arrows:p3Arrows, pred:p3Pred, names:p3Names, predText:p3PredText},
  {obs:p4Obs, model:p4Model, line:p4Line, xt:p4XTicks, yt:p4YTicks, x:[94.2540,94.3539], y:[-0.1,0.4], top:680, h:169, arrows:p4Arrows, pred:[], names:p4Names, predText:[]},
  {obs:p5Obs, model:p5Model, line:p5Line, xt:p5XTicks, yt:p5YTicks, x:[95.425,95.525], y:[-0.1,0.4], top:897, h:170, arrows:p5Arrows, pred:[], names:p5Names, predText:[]},
  {obs:p6Obs, model:p6Model, line:p6Line, xt:p6XTicks, yt:p6YTicks, x:[102.7690,102.8689], y:[-0.15,0.5], top:1115, h:171, arrows:p6Arrows, pred:p6Pred, names:p6Names, predText:p6PredText},
  {obs:p7Obs, model:p7Model, line:p7Line, xt:p7XTicks, yt:p7YTicks, x:[104.6198,104.7197], y:[-0.15,0.6], top:1333, h:170, arrows:p7Arrows, pred:[], names:p7Names, predText:[]}
];

var FONT = '"DejaVu Serif", serif';
var RED = '#ff0000', GREEN = '#14e614', BLUE = '#0000ff';

function fmtX(v) { return String(+v.toFixed(4)); }
function fmtY(v) { v = +v.toFixed(2); return v < 0 ? '\u2212' + (-v) : String(v); }
function minorTicks(major, step, lo, hi) {
  var out = major.map(function (v) { return v + step; });
  out.push(major[0] - step);
  return out.filter(function (v) { return v > lo + 1e-9 && v < hi - 1e-9; });
}

var grids = [], xAxes = [], yAxes = [], series = [];

panels.forEach(function (p, i) {
  grids.push({left:75, width:510, top:p.top, height:p.h, outerBoundsMode:'none'});
  var xm = minorTicks(p.xt, 0.0125, p.x[0], p.x[1]);
  var ym = minorTicks(p.yt, 0.1, p.y[0], p.y[1]);
  var xb = {type:'value', gridIndex:i, min:p.x[0], max:p.x[1], splitLine:{show:false}, z:5};
  var yb = {type:'value', gridIndex:i, min:p.y[0], max:p.y[1], splitLine:{show:false}, z:5};
  var line = {show:true, onZero:false, lineStyle:{color:'#000', width:1}};
  var noLine = {show:false, onZero:false};
  ['bottom', 'top'].forEach(function (pos) {
    var main = Object.assign({}, xb, {position:pos, offset:0, axisLine:line,
      axisTick:{show:true, inside:true, length:11, customValues:p.xt, lineStyle:{color:'#000', width:1}},
      axisLabel:{show:pos === 'bottom', customValues:p.xt, formatter:fmtX, margin:11, color:'#000', fontFamily:FONT, fontSize:17}});
    if (pos === 'bottom' && i === panels.length - 1) {
      main.name = 'Frequency (GHz)';
      main.nameLocation = 'middle';
      main.nameGap = 37;
      main.nameTextStyle = {color:'#000', fontFamily:FONT, fontSize:18};
    }
    xAxes.push(main);
    xAxes.push(Object.assign({}, xb, {position:pos, offset:0, axisLine:noLine,
      axisTick:{show:true, inside:true, length:6, customValues:xm, lineStyle:{color:'#000', width:1}},
      axisLabel:{show:false}}));
  });
  ['left', 'right'].forEach(function (pos) {
    yAxes.push(Object.assign({}, yb, {position:pos, offset:0, axisLine:line,
      axisTick:{show:true, inside:true, length:11, customValues:p.yt, lineStyle:{color:'#000', width:1}},
      axisLabel:{show:pos === 'left', customValues:p.yt, formatter:fmtY, margin:11, color:'#000', fontFamily:FONT, fontSize:17}}));
    yAxes.push(Object.assign({}, yb, {position:pos, offset:0, axisLine:noLine,
      axisTick:{show:true, inside:true, length:6, customValues:ym, lineStyle:{color:'#000', width:1}},
      axisLabel:{show:false}}));
  });

  var ax = {xAxisIndex:4 * i, yAxisIndex:4 * i};
  series.push(Object.assign({type:'line', data:p.obs, step:'middle', showSymbol:false, silent:true, clip:true,
    lineStyle:{color:'#000', width:2.6}, z:2}, ax));
  series.push(Object.assign({type:'line', data:p.model, smooth:0.35, showSymbol:false, silent:true, clip:true,
    lineStyle:{color:GREEN, width:1.2}, z:3}, ax));
  series.push(Object.assign({type:'line', data:p.line, smooth:0.35, showSymbol:false, silent:true, clip:true,
    lineStyle:{color:RED, width:1.2}, z:4}, ax));
  series.push(arrowSeries(ax, p.arrows, RED, false));
  if (p.pred.length) series.push(arrowSeries(ax, p.pred, BLUE, true));
  series.push(textSeries(ax, p.names, RED));
  if (p.predText.length) series.push(textSeries(ax, p.predText, BLUE));
});

function arrowSeries(ax, data, color, cap) {
  return Object.assign({type:'custom', coordinateSystem:'cartesian2d', silent:true, clip:false, z:6,
    data:data, encode:{x:0, y:[1, 2]},
    renderItem:function (params, api) {
      var x = api.value(0);
      var a = api.coord([x, api.value(1)]), b = api.coord([x, api.value(2)]);
      var dir = b[1] < a[1] ? -1 : 1;
      var st = {stroke:color, lineWidth:1.2, fill:null};
      var kids = [
        {type:'line', shape:{x1:a[0], y1:a[1], x2:b[0], y2:b[1]}, style:st},
        {type:'polyline', shape:{points:[[b[0] - 3.5, b[1] - dir * 6], [b[0], b[1]], [b[0] + 3.5, b[1] - dir * 6]]}, style:st}
      ];
      if (cap) kids.push({type:'line', shape:{x1:a[0] - 3, y1:a[1], x2:a[0] + 3, y2:a[1]}, style:st});
      return {type:'group', children:kids};
    }}, ax);
}

function textSeries(ax, notes, color) {
  return Object.assign({type:'custom', coordinateSystem:'cartesian2d', silent:true, clip:false, z:7,
    data:notes.map(function (n) { return [n[1], n[2]]; }), encode:{x:0, y:1},
    renderItem:function (params, api) {
      var pt = api.coord([api.value(0), api.value(1)]);
      return {type:'text', x:pt[0], y:pt[1],
        style:{text:notes[params.dataIndex][0], fill:color, fontFamily:'DejaVu Serif', fontSize:18, align:'center', verticalAlign:'middle'}};
    }}, ax);
}

var chart = echarts.init(document.getElementById('chart'), null, {renderer:'canvas'});
chart.setOption({
  animation:false,
  backgroundColor:'#fff',
  grid:grids,
  xAxis:xAxes,
  yAxis:yAxes,
  series:series,
  graphic:[{
    type:'group', x:18, y:192, rotation:Math.PI / 2,
    children:[
      {type:'text', x:0, y:0, style:{text:'T', fill:'#000', fontFamily:'DejaVu Serif', fontSize:18, align:'left', verticalAlign:'middle'}},
      {type:'text', x:13, y:5, style:{text:'MB', fill:'#000', fontFamily:'DejaVu Serif', fontSize:12, align:'left', verticalAlign:'middle'}},
      {type:'text', x:52, y:0, style:{text:'(K)', fill:'#000', fontFamily:'DejaVu Serif', fontSize:17, align:'left', verticalAlign:'middle'}}
    ]
  }]
});
</script>
</body>
</html>
